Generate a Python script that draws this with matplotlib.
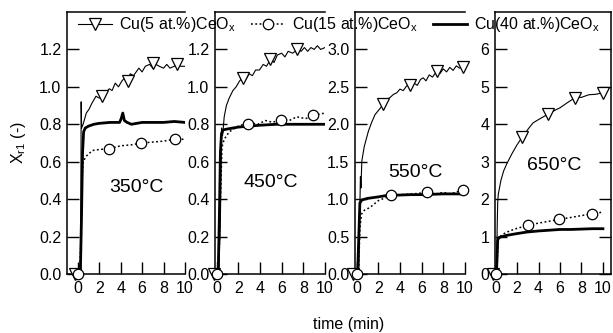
import matplotlib
matplotlib.use("Agg")
import matplotlib.pyplot as plt
from matplotlib.lines import Line2D


plt.rcParams["font.family"      ] = ["Liberation Sans", "DejaVu Sans"]
plt.rcParams["font.size"        ] = 11.5
plt.rcParams["mathtext.fontset" ] = "custom"
plt.rcParams["mathtext.rm"      ] = "Liberation Sans"
plt.rcParams["mathtext.it"      ] = "Liberation Sans:italic"
plt.rcParams["mathtext.default" ] = "regular"
plt.rcParams["xtick.direction"  ] = "in"
plt.rcParams["ytick.direction"  ] = "in"
plt.rcParams["xtick.major.size" ] = 8.5
plt.rcParams["ytick.major.size" ] = 8.5
plt.rcParams["xtick.major.width"] = 1.0
plt.rcParams["ytick.major.width"] = 1.0
plt.rcParams["axes.linewidth"   ] = 1.1


# ---- data: time (min) vs X_r1 (-) ----
# 350 C
t5_350  = [0, 0.25, 0.28, 0.32, 0.36, 0.5, 0.8, 1.05, 1.3, 1.5, 1.7, 2.0, 2.3, 2.6, 2.95, 3.2, 3.5,
           3.8, 4.1, 4.4, 4.66, 4.9, 5.2, 5.45, 5.7, 6.0, 6.3, 6.7, 7.0, 7.3, 7.6, 8.0, 8.3, 8.6,
           9.0, 9.3, 9.6, 10.0]
x5_350  = [0, 0.02, 0.05, 0.92, 0.78, 0.80, 0.86, 0.88, 0.91, 0.93, 0.95, 0.94, 0.96, 0.97, 0.99,
           0.98, 1.02, 1.00, 1.03, 1.05, 1.04, 1.07, 1.06, 1.08, 1.10, 1.08, 1.11, 1.12, 1.10, 1.12,
           1.11, 1.10, 1.12, 1.10, 1.11, 1.12, 1.11, 1.11]
m5_t_350 = [-0.3, 2.3, 4.66, 7.0, 9.3]
m5_x_350 = [0.0, 0.95, 1.03, 1.13, 1.12]

t15_350 = [0, 0.2, 0.3, 0.4, 0.5, 0.8, 1.37, 2.0, 2.94, 4.0, 5.0, 5.9, 7.0, 8.0, 9.05, 10]
x15_350 = [0, 0.01, 0.2, 0.5, 0.6, 0.63, 0.66, 0.665, 0.67, 0.685, 0.69, 0.70, 0.705, 0.71, 0.72, 0.72]
m15_t_350 = [0, 2.94, 5.9, 9.05]
m15_x_350 = [0, 0.67, 0.70, 0.72]

t40_350 = [0, 0.25, 0.35, 0.45, 0.55, 0.7, 1.0, 1.5, 2, 3, 3.9, 4.05, 4.2, 4.35, 4.6, 5, 6, 7, 8, 9, 10]
x40_350 = [0, 0.02, 0.3, 0.65, 0.76, 0.78, 0.79, 0.80, 0.805, 0.81, 0.81, 0.83, 0.86, 0.82, 0.81,
           0.80, 0.81, 0.81, 0.81, 0.815, 0.81]

# 450 C
t5_450  = [0, 0.2, 0.35, 0.45, 0.55, 0.7, 0.9, 1.16, 1.5, 1.8, 2.1, 2.4, 2.7, 3.0, 3.3, 3.6, 3.95,
           4.3, 4.6, 5.0, 5.3, 5.6, 6.0, 6.3, 6.6, 7.0, 7.5, 7.8, 8.1, 8.4, 8.7, 9.0, 9.3, 9.6, 10.0]
x5_450  = [0, 0.02, 0.3, 0.78, 0.74, 0.84, 0.90, 0.94, 0.98, 1.00, 1.03, 1.05, 1.04, 1.07, 1.06,
           1.09, 1.09, 1.12, 1.11, 1.15, 1.13, 1.17, 1.18, 1.16, 1.19, 1.18, 1.20, 1.19, 1.21, 1.19,
           1.21, 1.20, 1.22, 1.20, 1.21]
m5_t_450 = [-0.25, 2.4, 4.95, 7.4]
m5_x_450 = [0.0, 1.05, 1.15, 1.20]

t15_450 = [0, 0.2, 0.35, 0.5, 0.7, 1.16, 2.0, 3.0, 3.8, 4.5, 5.2, 6.0, 6.7, 7.4, 8.2, 9.1, 10]
x15_450 = [0, 0.02, 0.4, 0.68, 0.72, 0.76, 0.79, 0.81, 0.80, 0.82, 0.81, 0.83, 0.82, 0.84, 0.83, 0.85, 0.86]
m15_t_450 = [0, 2.93, 5.97, 8.9]
m15_x_450 = [0, 0.80, 0.825, 0.85]

t40_450 = [0, 0.15, 0.25, 0.35, 0.45, 0.6, 1.0, 2.0, 3.0, 4.0, 5.5, 7, 8.5, 10]
x40_450 = [0, 0.02, 0.3, 0.65, 0.75, 0.77, 0.775, 0.785, 0.79, 0.795, 0.80, 0.80, 0.80, 0.80]

# 550 C
t5_550  = [0, 0.2, 0.3, 0.35, 0.4, 0.48, 0.7, 1.09, 1.4, 1.7, 2.1, 2.47, 2.8, 3.1, 3.4, 3.7, 4.0,
           4.3, 4.6, 4.93, 5.3, 5.6, 5.9, 6.15, 6.4, 6.7, 7.0, 7.4, 7.7, 8.0, 8.3, 8.6, 8.9, 9.2,
           9.5, 9.85, 10]
x5_550  = [0, 0.05, 0.9, 1.3, 1.15, 1.51, 1.7, 1.91, 2.03, 2.13, 2.20, 2.27, 2.33, 2.36, 2.40, 2.42,
           2.47, 2.45, 2.51, 2.53, 2.55, 2.52, 2.60, 2.62, 2.58, 2.66, 2.63, 2.71, 2.68, 2.74, 2.70,
           2.76, 2.72, 2.78, 2.75, 2.77, 2.80]
m5_t_550 = [-0.3, 2.47, 4.93, 7.4, 9.85]
m5_x_550 = [0.0, 2.27, 2.53, 2.71, 2.77]

t15_550 = [0, 0.2, 0.3, 0.45, 0.7, 1.24, 2.0, 3.2, 4.2, 5.2, 6.5, 7.3, 8.0, 8.7, 9.3, 9.85, 10]
x15_550 = [0, 0.1, 0.6, 0.8, 0.85, 0.89, 0.98, 1.05, 1.06, 1.07, 1.09, 1.07, 1.09, 1.07, 1.10, 1.12, 1.11]
m15_t_550 = [0, 3.2, 6.5, 9.85]
m15_x_550 = [0, 1.05, 1.09, 1.12]

t40_550 = [0, 0.1, 0.2, 0.3, 0.5, 1.0, 2.0, 2.8, 4, 5, 6, 7, 8, 9, 10]
x40_550 = [0, 0.05, 0.5, 0.95, 0.99, 1.01, 1.03, 1.05, 1.055, 1.06, 1.06, 1.065, 1.07, 1.07, 1.07]

# 650 C
t5_650  = [0, 0.1, 0.15, 0.2, 0.26, 0.5, 0.75, 1.04, 1.5, 2.0, 2.44, 3.0, 3.5, 4.2, 4.9, 5.5, 6.0,
           6.7, 7.4, 8.0, 8.7, 9.3, 9.97]
x5_650  = [0, 0.1, 1.2, 1.9, 2.14, 2.5, 2.75, 2.94, 3.2, 3.45, 3.64, 3.86, 4.04, 4.16, 4.27, 4.37,
           4.44, 4.58, 4.71, 4.72, 4.79, 4.80, 4.84]
m5_t_650 = [-0.2, 2.44, 4.9, 7.4, 9.97]
m5_x_650 = [0.0, 3.65, 4.27, 4.71, 4.84]

t15_650 = [0, 0.15, 0.25, 0.4, 0.8, 1.3, 2.0, 3.05, 4.0, 5.0, 5.93, 7.0, 8.0, 9.0, 9.9]
x15_650 = [0, 0.3, 0.95, 1.0, 1.08, 1.15, 1.22, 1.30, 1.36, 1.41, 1.46, 1.51, 1.56, 1.61, 1.65]
m15_t_650 = [0, 3.05, 5.93, 9.0]
m15_x_650 = [0, 1.30, 1.46, 1.61]

t40_650 = [0, 0.1, 0.2, 0.3, 0.6, 1.0, 2.0, 2.9, 4.0, 5.0, 6.0, 7.0, 8.0, 9.0, 10]
x40_650 = [0, 0.1, 0.9, 0.97, 1.0, 1.03, 1.08, 1.12, 1.15, 1.17, 1.19, 1.19, 1.20, 1.21, 1.21]

temperatures  = ["350°C", "450°C", "550°C", "650°C"]
series_labels = ["Cu(5 at.%)CeO$_x$", "Cu(15 at.%)CeO$_x$", "Cu(40 at.%)CeO$_x$"]
x_ticks       = [0, 2, 4, 6, 8, 10]
y_ticks       = [[0.0, 0.2, 0.4, 0.6, 0.8, 1.0, 1.2],
                 [0.0, 0.2, 0.4, 0.6, 0.8, 1.0, 1.2],
                 [0.0, 0.5, 1.0, 1.5, 2.0, 2.5, 3.0],
                 [0, 1, 2, 3, 4, 5, 6]]


W, H = 613, 333

# panel geometry in pixels: left, right, plus axis limits and label spot
panels = [
    dict(left=67,  right=185, xlim=(-1.0, 10.0),  ylim=(0, 1.4), fmt="%.1f", txt=(5.5, 0.46),
         c5=(t5_350, x5_350, m5_t_350, m5_x_350), c15=(t15_350, x15_350, m15_t_350, m15_x_350),
         c40=(t40_350, x40_350)),
    dict(left=215, right=325, xlim=(-0.15, 10.0), ylim=(0, 1.4), fmt="%.1f", txt=(5.0, 0.49),
         c5=(t5_450, x5_450, m5_t_450, m5_x_450), c15=(t15_450, x15_450, m15_t_450, m15_x_450),
         c40=(t40_450, x40_450)),
    dict(left=355, right=465, xlim=(-0.15, 10.0), ylim=(0, 3.5), fmt="%.1f", txt=(5.4, 1.35),
         c5=(t5_550, x5_550, m5_t_550, m5_x_550), c15=(t15_550, x15_550, m15_t_550, m15_x_550),
         c40=(t40_550, x40_550)),
    dict(left=495, right=611, xlim=(-0.05, 10.75), ylim=(0, 7), fmt="%d", txt=(5.5, 2.9),
         c5=(t5_650, x5_650, m5_t_650, m5_x_650), c15=(t15_650, x15_650, m15_t_650, m15_x_650),
         c40=(t40_650, x40_650)),
]

AX_TOP, AX_BOTTOM = 12, 274

style5  = dict(color="black", lw=0.8, ls="-")
style15 = dict(color="black", lw=1.1, ls=(0, (1.2, 1.6)))
style40 = dict(color="black", lw=2.0, ls="-")
mk5  = dict(marker="v", ms=9,   mfc="white", mec="black", mew=0.9)
mk15 = dict(marker="o", ms=7.5, mfc="white", mec="black", mew=0.9)


def draw_panel(ax, p, temp, yt, last):
    t, x, mt, mx = p["c5"]
    ax.plot(t, x, **style5)
    ax.plot(mt, mx, ls="none", clip_on=False, zorder=5, **mk5)
    t, x, mt, mx = p["c15"]
    ax.plot(t, x, **style15)
    ax.plot(mt, mx, ls="none", clip_on=False, zorder=5, **mk15)
    t, x = p["c40"]
    ax.plot(t, x, **style40)

    ax.set_xlim(*p["xlim"])
    ax.set_ylim(*p["ylim"])
    ax.set_xticks(x_ticks)
    ax.set_yticks(yt)
    ax.set_yticklabels([p["fmt"] % v for v in yt])
    ax.tick_params(axis="x", pad=5)
    ax.tick_params(axis="y", pad=4)
    ax.spines["right"].set_visible(last)
    if last:
        ax.tick_params(axis="y", right=True)
    ax.text(p["txt"][0], p["txt"][1], temp, ha="center", va="center", fontsize=14)
    ax.patch.set_visible(False)


def main():
    fig = plt.figure(figsize=(W / 100, H / 100), dpi=100)
    for i, p in enumerate(panels):
        rect = [p["left"] / W, 1 - AX_BOTTOM / H, (p["right"] - p["left"]) / W,
                (AX_BOTTOM - AX_TOP) / H]
        ax = fig.add_axes(rect)
        draw_panel(ax, p, temperatures[i], y_ticks[i], i == len(panels) - 1)

    handles = [Line2D([], [], **style5, **mk5),
               Line2D([], [], **style15, **mk15),
               Line2D([], [], **style40)]
    fig.legend(handles, series_labels, loc="center", bbox_to_anchor=(339 / W, 1 - 25 / H),
               ncol=3, frameon=False, fontsize=11.5, handlelength=2.1, handletextpad=0.45,
               columnspacing=0.95, borderpad=0, borderaxespad=0)

    fig.text(18 / W, 1 - 143 / H, "X$_{r1}$ (-)", rotation=90, ha="center", va="center")
    fig.text(349 / W, 1 - 325 / H, "time (min)", ha="center", va="center")
    fig.savefig("out.png", dpi=100)


if __name__ == "__main__":
    main()
